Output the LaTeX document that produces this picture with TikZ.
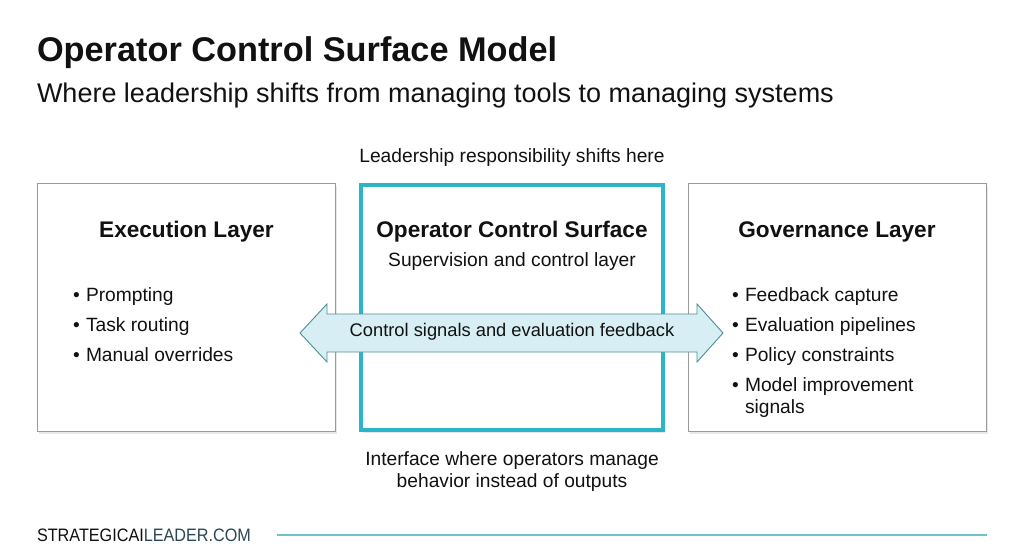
\documentclass[tikz,border=0pt]{standalone}
\usepackage{fontspec}
\usepackage{graphicx}
\setmainfont{Liberation Sans}
\usetikzlibrary{shadows}
\definecolor{teal1}{HTML}{2BB5C8}
\definecolor{boxgray}{HTML}{9A9A9A}
\definecolor{arrowfill}{HTML}{D7EFF4}
\definecolor{arrowline}{HTML}{4F8E98}
\definecolor{footteal}{HTML}{6CC3CE}
\definecolor{brandblue}{HTML}{2B4756}
\definecolor{txt}{HTML}{111111}
\tikzset{
  sidebox/.style={draw=boxgray, line width=1pt, fill=white, anchor=north west,
    minimum width=298pt, minimum height=248pt, inner sep=0pt, outer sep=0pt,
    drop shadow={opacity=0.18, shadow xshift=1.5pt, shadow yshift=-2pt}},
  midbox/.style={draw=teal1, line width=4pt, fill=white, anchor=north west,
    minimum width=302pt, minimum height=245pt, inner sep=0pt, outer sep=0pt,
    drop shadow={opacity=0.18, shadow xshift=1.5pt, shadow yshift=-3pt}},
  txtnode/.style={inner sep=0pt, outer sep=0pt, text=txt},
  heading/.style={txtnode, anchor=base, font=\fontsize{22.6}{26}\selectfont\bfseries},
  body/.style={txtnode, font=\fontsize{19.2}{21.5}\selectfont},
  bullet/.style={txtnode, anchor=base west, font=\fontsize{19.2}{21.5}\selectfont},
  item/.style={txtnode, anchor=base west, align=left, font=\fontsize{19.2}{21.6}\selectfont},
  sigarrow/.style={fill=arrowfill, draw=arrowline, line width=0.9pt, line join=miter},
  footline/.style={draw=footteal, line width=2pt},
}
\begin{document}
\begin{tikzpicture}[x=1pt, y=-1pt]
\useasboundingbox[fill=white] (0,0) rectangle (1024,559);

% titles
\node[txtnode, anchor=base west, font=\fontsize{34.3}{40}\selectfont\bfseries] (title) at (37,62) {Operator Control Surface Model};
\node[txtnode, anchor=base west, font=\fontsize{27}{31}\selectfont] (subtitle) at (37,102.5) {Where leadership shifts from managing tools to managing systems};

% top note
\node[body, anchor=base] (shift) at (512,162) {Leadership responsibility shifts here};

% boxes
\node[sidebox] (exec) at (37.5,183.5) {};
\node[midbox] (ocs) at (361,185) {};
\node[sidebox] (gov) at (688.5,183.5) {};

% headings
\node[heading] (exech) at (186.5,237) {Execution Layer};
\node[heading] (ocsh) at (512,237) {Operator Control Surface};
\node[body, anchor=base] (ocssub) at (512,266) {Supervision and control layer};
\node[heading] (govh) at (837,237) {Governance Layer};

% left bullets
\node[bullet] (eb1) at (73,301) {•};
\node[item] (ei1) at (86,301) {Prompting};
\node[bullet] (eb2) at (73,331) {•};
\node[item] (ei2) at (86,331) {Task routing};
\node[bullet] (eb3) at (73,361) {•};
\node[item] (ei3) at (86,361) {Manual overrides};

% right bullets
\node[bullet] (gb1) at (732,301) {•};
\node[item] (gi1) at (745,301) {Feedback capture};
\node[bullet] (gb2) at (732,331) {•};
\node[item] (gi2) at (745,331) {Evaluation pipelines};
\node[bullet] (gb3) at (732,361) {•};
\node[item] (gi3) at (745,361) {Policy constraints};
\node[bullet] (gb4) at (732,391) {•};
\node[item] (gi4) at (745,413) {Model improvement\\signals};

% double arrow
\coordinate (ltip) at (300,333);
\coordinate (rtip) at (723,333);
\draw[sigarrow] (ltip) -- (327,304) -- (327,314) -- (697,314) -- (697,304) -- (rtip)
  -- (697,362) -- (697,352) -- (327,352) -- (327,362) -- cycle;
\node[txtnode, anchor=center, font=\fontsize{18.3}{21}\selectfont] (sig) at (512,332) {Control signals and evaluation feedback};

% bottom note
\node[body, anchor=base, align=center] (iface) at (512,487) {Interface where operators manage\\behavior instead of outputs};

% footer
\node[txtnode, anchor=base west, font=\fontsize{18}{20}\selectfont] (brand) at (37,541) {\scalebox{0.9}[1]{STRATEGICAI\textcolor{brandblue}{LEADER.COM}}};
\coordinate (fl1) at (277,535);
\coordinate (fl2) at (987,535);
\draw[footline] (fl1) -- (fl2);
\end{tikzpicture}
\end{document}
